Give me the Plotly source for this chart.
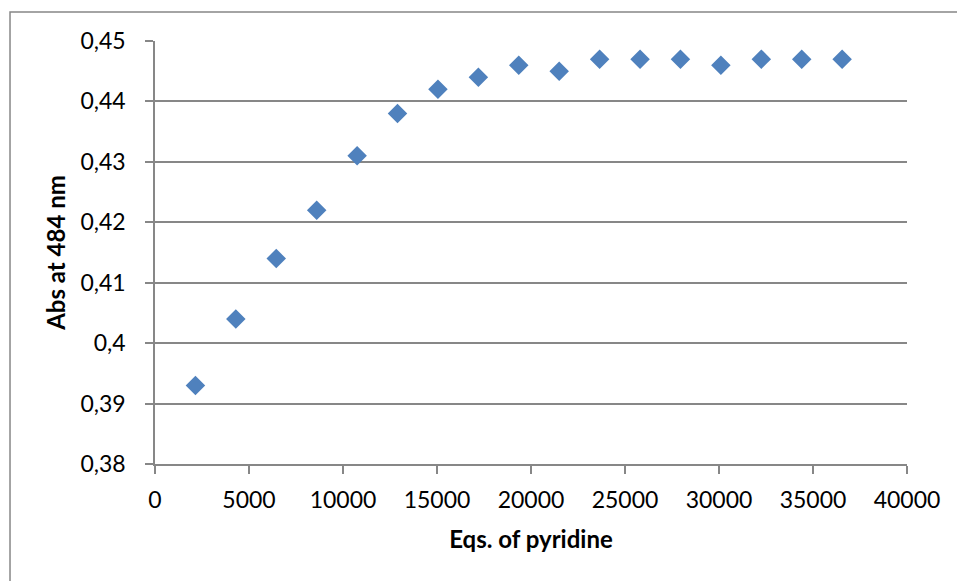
import plotly.graph_objects as go

# Titration data: absorbance at 484 nm vs. equivalents of pyridine added
eq_pyridine = [2150, 4300, 6450, 8600, 10750, 12900, 15050, 17200, 19350,
               21500, 23650, 25800, 27950, 30100, 32250, 34400, 36550]
abs_484 = [0.393, 0.404, 0.414, 0.422, 0.431, 0.438, 0.442, 0.444, 0.446,
           0.445, 0.447, 0.447, 0.447, 0.446, 0.447, 0.447, 0.447]

x_ticks = [0, 5000, 10000, 15000, 20000, 25000, 30000, 35000, 40000]
x_tick_labels = ["0", "5000", "10000", "15000", "20000", "25000", "30000", "35000", "40000"]
y_ticks = [0.38, 0.39, 0.40, 0.41, 0.42, 0.43, 0.44, 0.45]
y_tick_labels = ["0,38", "0,39", "0,4", "0,41", "0,42", "0,43", "0,44", "0,45"]

GRID = "#878787"
FONT = "Lato, 'Open Sans', sans-serif"

fig = go.Figure(
    go.Scatter(
        x=eq_pyridine,
        y=abs_484,
        mode="markers",
        marker=dict(symbol="diamond", size=15, color="#4F81BD",
                    line=dict(width=0)),
        showlegend=False,
    )
)

fig.update_layout(
    width=957,
    height=581,
    margin=dict(l=155, r=50, t=41, b=117, autoexpand=False),
    paper_bgcolor="white",
    plot_bgcolor="white",
    font=dict(family=FONT, size=23, color="#000000"),
    xaxis=dict(
        range=[0, 40000],
        tickmode="array",
        tickvals=x_ticks,
        ticktext=x_tick_labels,
        showgrid=False,
        zeroline=False,
        showline=True,
        linecolor=GRID,
        linewidth=1.5,
        ticks="outside",
        ticklen=8,
        tickcolor=GRID,
        tickwidth=1.5,
        ticklabelstandoff=7,
        tickfont=dict(size=23),
        title=dict(text="<b>Eqs. of pyridine</b>", font=dict(size=24), standoff=19),
    ),
    yaxis=dict(
        range=[0.38, 0.45],
        tickmode="array",
        tickvals=y_ticks,
        ticktext=y_tick_labels,
        showgrid=True,
        gridcolor=GRID,
        gridwidth=1.5,
        zeroline=False,
        showline=True,
        linecolor=GRID,
        linewidth=1.5,
        ticks="outside",
        ticklen=8,
        tickcolor=GRID,
        tickwidth=1.5,
        ticklabelstandoff=15,
        tickfont=dict(size=23),
        title=dict(text="<b>Abs at 484 nm</b>", font=dict(size=24), standoff=8),
    ),
    shapes=[
        dict(type="rect", xref="paper", yref="paper",
             x0=-0.1928, x1=1.3, y0=-0.5, y1=1.0686,
             line=dict(color=GRID, width=1.5), layer="below"),
    ],
)

fig.write_html("out.html")
